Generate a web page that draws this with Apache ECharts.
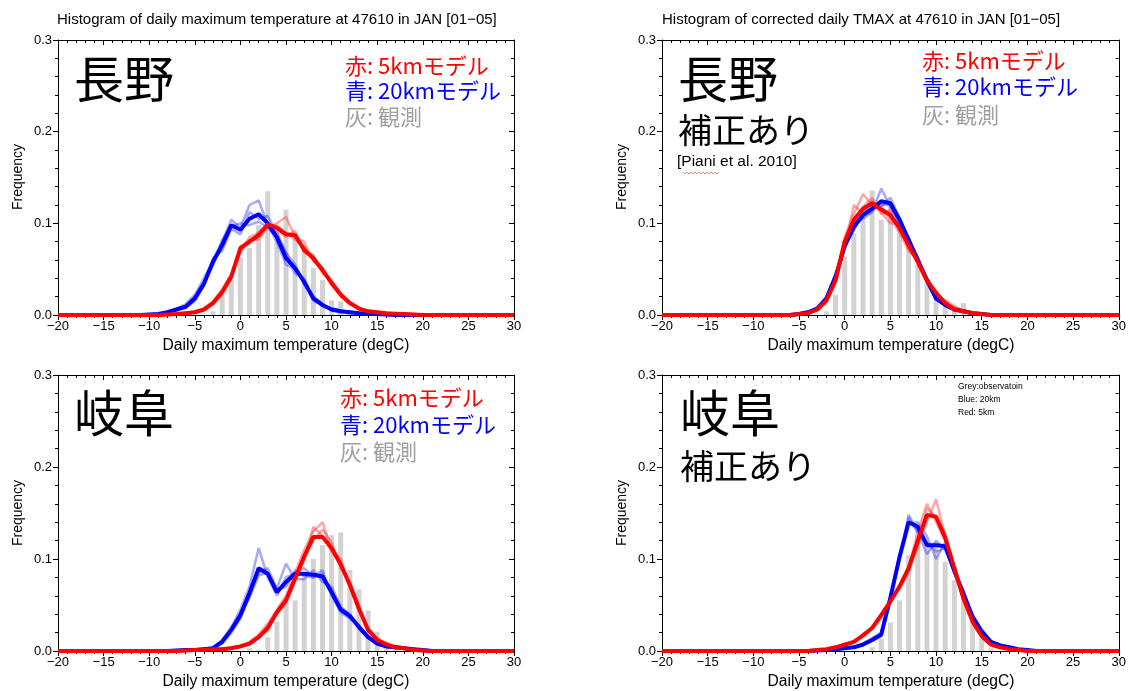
<!DOCTYPE html>
<html><head><meta charset="utf-8">
<script src="https://cdn.jsdelivr.net/npm/echarts@6/dist/echarts.min.js"></script>
<style>html,body{margin:0;padding:0;background:#fff}#c{width:1129px;height:691px}</style>
</head><body><div id="c"></div>
<script>
const tempMin = -20, tempMax = 30;
const freqMax = 0.3;

// ---- Panel 1: Nagano (raw model), values from naganoStart (degC) upward, 1 degC bins
const naganoStart = -10;
const naganoObs  = [0,0,0,0,0,0,0,0.004,0.022,0.038,0.063,0.073,0.098,0.135,0.089,0.115,0.09,0.075,0.051,0.038,0.016,0.015,0.005,0,0,0,0,0,0,0];
const naganoBlue = [0.0005,0.001,0.003,0.006,0.009,0.018,0.034,0.058,0.076,0.098,0.093,0.105,0.11,0.1,0.085,0.062,0.051,0.036,0.018,0.011,0.006,0.004,0.003,0.002,0.001,0.001,0.0005,0,0,0];
const naganoRed  = [0,0,0.0005,0.001,0.002,0.003,0.006,0.013,0.025,0.042,0.073,0.08,0.087,0.099,0.095,0.088,0.087,0.071,0.062,0.049,0.035,0.022,0.013,0.007,0.004,0.003,0.002,0.0015,0.001,0.0005];
const naganoBlueM1 = [0,0.001,0.002,0.007,0.012,0.022,0.04,0.06,0.08,0.104,0.095,0.12,0.125,0.098,0.08,0.055,0.05,0.035,0.02,0.012,0.006,0.004,0.003,0.002,0.001,0.001,0,0,0,0];
const naganoBlueM2 = [0.001,0.001,0.004,0.005,0.008,0.015,0.032,0.062,0.07,0.094,0.088,0.112,0.105,0.108,0.09,0.068,0.045,0.04,0.016,0.01,0.007,0.005,0.003,0.002,0.002,0.001,0.001,0,0,0];
const naganoBlueM3 = [0,0.001,0.003,0.007,0.01,0.02,0.036,0.054,0.082,0.097,0.1,0.098,0.102,0.095,0.085,0.068,0.055,0.033,0.02,0.011,0.005,0.003,0.002,0.002,0.001,0,0,0,0,0];
const naganoRedM1 = [0,0,0,0.001,0.002,0.004,0.007,0.015,0.028,0.045,0.07,0.085,0.09,0.095,0.1,0.107,0.085,0.08,0.058,0.052,0.035,0.02,0.012,0.008,0.004,0.003,0.002,0.001,0.001,0];
const naganoRedM2 = [0,0,0.001,0.001,0.003,0.003,0.005,0.012,0.022,0.04,0.075,0.078,0.09,0.1,0.092,0.085,0.092,0.068,0.066,0.045,0.038,0.024,0.014,0.006,0.005,0.003,0.002,0.002,0.001,0.001];
const naganoRedM3 = [0,0,0,0.001,0.001,0.003,0.006,0.013,0.025,0.04,0.068,0.082,0.082,0.096,0.098,0.09,0.082,0.075,0.06,0.05,0.032,0.022,0.013,0.007,0.004,0.002,0.002,0.001,0,0];

// ---- Panel 2: Nagano (corrected)
const naganoCStart = -10;
const naganoCObs  = [0,0,0,0,0,0,0,0,0.004,0.022,0.064,0.089,0.11,0.136,0.104,0.118,0.096,0.075,0.055,0.036,0.024,0.013,0.007,0.013,0.004,0,0,0,0,0];
const naganoCRed  = [0,0,0,0,0,0.001,0.002,0.006,0.016,0.038,0.08,0.104,0.116,0.122,0.115,0.109,0.095,0.076,0.058,0.038,0.024,0.013,0.006,0.004,0.002,0.001,0,0,0,0];
const naganoCBlue = [0,0,0,0,0,0.001,0.003,0.007,0.018,0.042,0.075,0.096,0.109,0.116,0.124,0.122,0.104,0.082,0.06,0.038,0.018,0.011,0.006,0.004,0.002,0.001,0,0,0,0];
const naganoCRedM1 = [0,0,0,0,0,0.001,0.002,0.006,0.018,0.04,0.085,0.11,0.132,0.12,0.118,0.105,0.09,0.07,0.06,0.04,0.022,0.015,0.007,0.004,0.002,0.001,0,0,0,0];
const naganoCRedM2 = [0,0,0,0,0,0.001,0.003,0.005,0.014,0.035,0.075,0.12,0.11,0.125,0.11,0.115,0.092,0.082,0.055,0.035,0.026,0.013,0.008,0.005,0.002,0.001,0,0,0,0];
const naganoCRedM3 = [0,0,0,0,0,0.001,0.002,0.007,0.017,0.04,0.08,0.1,0.118,0.128,0.112,0.1,0.1,0.072,0.06,0.04,0.022,0.016,0.01,0.004,0.003,0.001,0,0,0,0];
const naganoCBlueM1 = [0,0,0,0,0,0.001,0.003,0.008,0.02,0.045,0.072,0.1,0.105,0.112,0.138,0.118,0.1,0.085,0.058,0.04,0.02,0.01,0.006,0.003,0.002,0.001,0,0,0,0];
const naganoCBlueM2 = [0,0,0,0,0,0.001,0.003,0.006,0.016,0.04,0.078,0.092,0.112,0.12,0.118,0.128,0.106,0.078,0.064,0.036,0.017,0.012,0.007,0.005,0.002,0.001,0,0,0,0];
const naganoCBlueM3 = [0,0,0,0,0,0.002,0.004,0.008,0.019,0.043,0.074,0.098,0.108,0.114,0.12,0.12,0.1,0.083,0.058,0.04,0.019,0.01,0.005,0.004,0.002,0.001,0,0,0,0];

// ---- Panel 3: Gifu (raw model)
const gifuStart = -8;
const gifuObs  = [0,0,0,0,0,0,0,0,0,0.003,0.001,0.015,0.032,0.053,0.055,0.086,0.1,0.115,0.126,0.129,0.088,0.067,0.044,0.021,0.008,0.002,0,0,0,0];
const gifuRed  = [0,0,0.0005,0.001,0.001,0.002,0.002,0.003,0.005,0.008,0.015,0.025,0.042,0.055,0.079,0.103,0.124,0.124,0.112,0.094,0.072,0.046,0.023,0.012,0.007,0.004,0.003,0.001,0.0005,0];
const gifuBlue = [0,0.0005,0.001,0.001,0.002,0.003,0.01,0.023,0.039,0.063,0.09,0.084,0.064,0.075,0.084,0.084,0.083,0.081,0.064,0.045,0.038,0.026,0.015,0.008,0.005,0.004,0.003,0.002,0.001,0];
const gifuBlueM1 = [0,0,0.001,0.001,0.002,0.004,0.012,0.026,0.045,0.07,0.112,0.08,0.06,0.08,0.085,0.09,0.08,0.088,0.06,0.042,0.035,0.028,0.016,0.008,0.006,0.004,0.003,0.002,0.001,0];
const gifuBlueM2 = [0,0.001,0.001,0.002,0.003,0.003,0.008,0.02,0.035,0.06,0.085,0.09,0.068,0.095,0.078,0.078,0.088,0.075,0.07,0.048,0.04,0.024,0.014,0.009,0.005,0.005,0.003,0.002,0.001,0];
const gifuBlueM3 = [0,0,0.001,0.001,0.002,0.003,0.011,0.024,0.04,0.058,0.082,0.085,0.066,0.07,0.088,0.082,0.08,0.084,0.062,0.046,0.04,0.026,0.015,0.007,0.005,0.003,0.003,0.002,0.001,0];
const gifuRedM1 = [0,0,0,0.001,0.001,0.002,0.002,0.003,0.006,0.01,0.018,0.03,0.045,0.06,0.085,0.11,0.13,0.14,0.11,0.1,0.07,0.045,0.025,0.014,0.008,0.004,0.003,0.001,0.001,0];
const gifuRedM2 = [0,0,0.001,0.001,0.001,0.002,0.003,0.004,0.005,0.007,0.014,0.028,0.04,0.052,0.075,0.1,0.12,0.132,0.118,0.09,0.075,0.05,0.022,0.012,0.009,0.005,0.003,0.001,0,0];
const gifuRedM3 = [0,0,0,0.001,0.001,0.002,0.002,0.003,0.004,0.009,0.016,0.022,0.044,0.058,0.08,0.098,0.135,0.125,0.108,0.095,0.07,0.044,0.024,0.013,0.007,0.004,0.002,0.001,0,0];

// ---- Panel 4: Gifu (corrected)
const gifuCStart = -8;
const gifuCObs  = [0,0,0,0,0,0,0,0,0,0,0,0.004,0.013,0.031,0.055,0.104,0.126,0.115,0.118,0.097,0.077,0.063,0.039,0.013,0.003,0,0,0,0,0];
const gifuCBlue = [0,0,0,0,0,0.0005,0.001,0.002,0.003,0.004,0.007,0.012,0.018,0.058,0.102,0.14,0.135,0.115,0.115,0.114,0.087,0.062,0.037,0.021,0.01,0.006,0.004,0.002,0.001,0];
const gifuCRed  = [0,0,0,0,0,0.001,0.002,0.004,0.007,0.01,0.017,0.025,0.039,0.054,0.07,0.09,0.12,0.148,0.146,0.123,0.09,0.057,0.032,0.016,0.007,0.004,0.002,0.001,0,0];
const gifuCBlueM1 = [0,0,0,0,0,0.001,0.001,0.002,0.003,0.005,0.008,0.014,0.02,0.06,0.1,0.148,0.13,0.105,0.12,0.11,0.09,0.06,0.04,0.022,0.011,0.006,0.003,0.002,0.001,0];
const gifuCBlueM2 = [0,0,0,0,0,0.001,0.001,0.002,0.003,0.004,0.006,0.011,0.016,0.055,0.105,0.138,0.14,0.125,0.1,0.118,0.085,0.065,0.035,0.02,0.009,0.006,0.004,0.002,0.001,0];
const gifuCBlueM3 = [0,0,0,0,0,0,0.001,0.002,0.004,0.005,0.007,0.012,0.018,0.057,0.1,0.145,0.128,0.118,0.108,0.112,0.088,0.066,0.038,0.024,0.01,0.007,0.004,0.002,0.001,0];
const gifuCRedM1 = [0,0,0,0,0,0.001,0.002,0.004,0.006,0.011,0.016,0.026,0.04,0.052,0.072,0.09,0.13,0.16,0.14,0.12,0.088,0.06,0.03,0.017,0.008,0.004,0.002,0.001,0,0];
const gifuCRedM2 = [0,0,0,0,0,0.001,0.002,0.003,0.008,0.01,0.018,0.024,0.036,0.056,0.068,0.085,0.115,0.14,0.165,0.125,0.092,0.055,0.034,0.015,0.007,0.004,0.002,0.001,0,0];
const gifuCRedM3 = [0,0,0,0,0,0.001,0.002,0.005,0.007,0.01,0.017,0.025,0.04,0.055,0.07,0.092,0.112,0.155,0.145,0.128,0.09,0.058,0.03,0.016,0.007,0.004,0.002,0.001,0,0];

// ---- text
const titleRaw = 'Histogram of daily maximum temperature at 47610 in JAN [01\u221205]';
const titleCorr = 'Histogram of corrected daily TMAX at 47610 in JAN [01\u221205]';
const xName = 'Daily maximum temperature (degC)';
const yName = 'Frequency';
const legendRed = '赤: 5kmモデル', legendBlue = '青: 20kmモデル', legendGrey = '灰: 観測';

const LATIN = '"Liberation Sans", Arial, Helvetica, sans-serif';
const CJK = '"Noto Sans CJK JP", "Noto Sans", sans-serif';

const panels = [
  {grid:{left:58, top:40, width:456, height:275}, start:naganoStart, obs:naganoObs, blue:naganoBlue, red:naganoRed,
   blueM:[naganoBlueM1,naganoBlueM2,naganoBlueM3], redM:[naganoRedM1,naganoRedM2,naganoRedM3]},
  {grid:{left:662, top:40, width:458, height:275}, start:naganoCStart, obs:naganoCObs, blue:naganoCBlue, red:naganoCRed,
   blueM:[naganoCBlueM1,naganoCBlueM2,naganoCBlueM3], redM:[naganoCRedM1,naganoCRedM2,naganoCRedM3]},
  {grid:{left:58, top:375, width:456, height:276}, start:gifuStart, obs:gifuObs, blue:gifuBlue, red:gifuRed,
   blueM:[gifuBlueM1,gifuBlueM2,gifuBlueM3], redM:[gifuRedM1,gifuRedM2,gifuRedM3]},
  {grid:{left:662, top:375, width:458, height:276}, start:gifuCStart, obs:gifuCObs, blue:gifuCBlue, red:gifuCRed,
   blueM:[gifuCBlueM1,gifuCBlueM2,gifuCBlueM3], redM:[gifuCRedM1,gifuCRedM2,gifuCRedM3]}
];

function full(start, arr){
  const out = [];
  for (let t = tempMin; t <= tempMax; t++){
    const i = t - start;
    out.push([t, (i >= 0 && i < arr.length) ? arr[i] : 0]);
  }
  return out;
}
function bars(start, arr){
  return arr.map((v,i)=>[start+i, v]).filter(d=>d[1]>0);
}
const fmtX = v => v < 0 ? '\u2212' + Math.abs(v) : String(v);

const grid=[], xAxis=[], yAxis=[], series=[];
panels.forEach((p,i)=>{
  grid.push(Object.assign({containLabel:false}, p.grid));
  const common = {type:'value', min:tempMin, max:tempMax, interval:5, gridIndex:i,
    splitLine:{show:false}, axisLine:{show:true, onZero:false, lineStyle:{color:'#000', width:1}}};
  xAxis.push(Object.assign({}, common, {position:'bottom',
    axisTick:{show:true, inside:false, length:5, lineStyle:{color:'#000'}},
    minorTick:{show:true, splitNumber:5, length:3, lineStyle:{color:'#000'}},
    axisLabel:{show:true, margin:5, color:'#000', fontSize:13, fontFamily:LATIN, formatter:fmtX}}));
  xAxis.push(Object.assign({}, common, {position:'top',
    axisTick:{show:true, inside:true, length:5, lineStyle:{color:'#000'}},
    minorTick:{show:true, splitNumber:5, length:3, lineStyle:{color:'#000'}},
    axisLabel:{show:false}}));
  const ycommon = {type:'value', min:0, max:freqMax, interval:0.1, gridIndex:i,
    splitLine:{show:false}, axisLine:{show:true, onZero:false, lineStyle:{color:'#000', width:1}}};
  yAxis.push(Object.assign({}, ycommon, {position:'left',
    axisTick:{show:true, inside:false, length:5, lineStyle:{color:'#000'}},
    minorTick:{show:true, splitNumber:5, length:3, lineStyle:{color:'#000'}},
    axisLabel:{show:true, margin:6, color:'#000', fontSize:13, fontFamily:LATIN, formatter:v=>v.toFixed(1)}}));
  yAxis.push(Object.assign({}, ycommon, {position:'right',
    axisTick:{show:true, inside:true, length:5, lineStyle:{color:'#000'}},
    minorTick:{show:true, splitNumber:5, length:3, lineStyle:{color:'#000'}},
    axisLabel:{show:false}}));
  const xi = 2*i, yi = 2*i;
  series.push({type:'bar', xAxisIndex:xi, yAxisIndex:yi, data:bars(p.start, p.obs), barWidth:5,
    itemStyle:{color:'#d2d2d2'}, silent:true, z:1});
  p.blueM.forEach(m=>series.push({type:'line', xAxisIndex:xi, yAxisIndex:yi, data:full(p.start,m), symbol:'none',
    lineStyle:{color:'rgba(60,60,255,0.45)', width:2.5}, z:2, silent:true}));
  p.redM.forEach(m=>series.push({type:'line', xAxisIndex:xi, yAxisIndex:yi, data:full(p.start,m), symbol:'none',
    lineStyle:{color:'rgba(255,60,60,0.45)', width:2.5}, z:2, silent:true}));
  series.push({type:'line', xAxisIndex:xi, yAxisIndex:yi, data:full(p.start,p.blue), symbol:'none',
    lineStyle:{color:'#0000ff', width:4}, z:3, silent:true});
  series.push({type:'line', xAxisIndex:xi, yAxisIndex:yi, data:full(p.start,p.red), symbol:'none',
    lineStyle:{color:'#ff0000', width:4}, z:4, silent:true});
});

function txt(x, y, text, size, color, family){
  return {type:'text', x:x, y:y, z:10, silent:true,
    style:{text:text, fontSize:size, fill:color, fontFamily:family, fontWeight:'normal', textAlign:'left', textVerticalAlign:'middle'}};
}
function ctxt(x, y, text, size, rot){
  return {type:'text', x:x, y:y, rotation:rot||0, z:10, silent:true,
    style:{text:text, fontSize:size, fill:'#000', fontFamily:LATIN, textAlign:'center', textVerticalAlign:'middle'}};
}

const graphic = [
  txt(57, 20, titleRaw, 15, '#000', LATIN),
  txt(662, 20, titleCorr, 15, '#000', LATIN),
  ctxt(18, 177, yName, 14, Math.PI/2), ctxt(622, 177, yName, 14, Math.PI/2),
  ctxt(18, 513, yName, 14, Math.PI/2), ctxt(622, 513, yName, 14, Math.PI/2),
  ctxt(286, 346, xName, 15.6), ctxt(891, 346, xName, 15.6),
  ctxt(286, 682, xName, 15.6), ctxt(891, 682, xName, 15.6),
  txt(74, 79, '長野', 50, '#000', CJK),
  txt(678, 79, '長野', 50, '#000', CJK),
  txt(678, 130, '補正あり', 34, '#000', CJK),
  txt(677, 162, '[Piani et al. 2010]', 15.5, '#000', LATIN),
  {type:'polyline', z:10, silent:true, shape:{points:[[683,172],[685,174],[687,172],[689,174],[691,172],[693,174],[695,172],[697,174],[699,172],[701,174],[703,172],[705,174],[707,172],[709,174],[711,172],[713,174],[715,172],[717,174],[719,172]]},
   style:{stroke:'rgba(230,60,60,0.8)', lineWidth:0.8, fill:null}},
  txt(74, 413, '岐阜', 50, '#000', CJK),
  txt(680, 413, '岐阜', 50, '#000', CJK),
  txt(680, 466, '補正あり', 34, '#000', CJK),
  txt(345, 66, legendRed, 22, '#ff0000', CJK),
  txt(345, 91, legendBlue, 22, '#0000ff', CJK),
  txt(345, 117, legendGrey, 22, '#a0a0a0', CJK),
  txt(922, 61, legendRed, 22, '#ff0000', CJK),
  txt(922, 87, legendBlue, 22, '#0000ff', CJK),
  txt(922, 115, legendGrey, 22, '#a0a0a0', CJK),
  txt(340, 398, legendRed, 22, '#ff0000', CJK),
  txt(340, 425, legendBlue, 22, '#0000ff', CJK),
  txt(340, 452, legendGrey, 22, '#a0a0a0', CJK),
  txt(958, 387, 'Grey:observatoin', 8.5, '#000', LATIN),
  txt(958, 400, 'Blue: 20km', 8.5, '#000', LATIN),
  txt(958, 413, 'Red: 5km', 8.5, '#000', LATIN)
];

const chart = echarts.init(document.getElementById('c'), null, {renderer:'canvas'});
chart.setOption({animation:false, backgroundColor:'#fff', grid, xAxis, yAxis, series, graphic});
</script>
</body></html>
